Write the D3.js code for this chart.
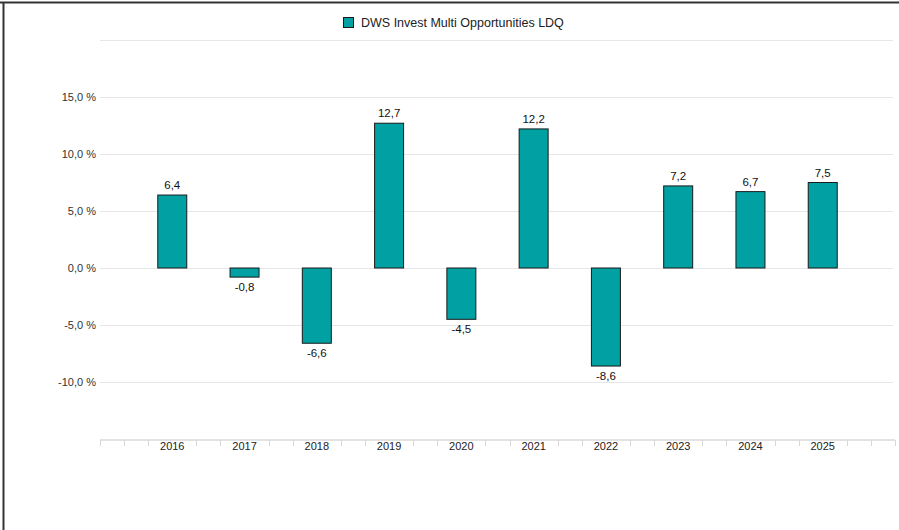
<!DOCTYPE html>
<html>
<head>
<meta charset="utf-8">
<script src="https://cdn.jsdelivr.net/npm/d3@7"></script>
<style>
  body { margin: 0; background: #fff; }
  text { font-family: "Liberation Sans", Arial, sans-serif; }
</style>
</head>
<body>
<div id="chart"></div>
<script>
const years = [2016, 2017, 2018, 2019, 2020, 2021, 2022, 2023, 2024, 2025];
const values = [6.4, -0.8, -6.6, 12.7, -4.5, 12.2, -8.6, 7.2, 6.7, 7.5];
const yTicks = [-10, -5, 0, 5, 10, 15];
const seriesName = 'DWS Invest Multi Opportunities LDQ';

const width = 899, height = 530;
const teal = '#00A0A3';

const locale = d3.formatLocale({ decimal: ',', thousands: '.', grouping: [3], currency: ['', ' €'], minus: '-' });
const fmtAxis = (d) => locale.format('.1f')(d) + ' %';
const fmtVal = locale.format('.1f');

let svg = d3.select('#chart')
            .append('svg')
              .attr('width', width)
              .attr('height', height);

// outer frame (top and left edges visible)
svg.append('line').attr('x1', 0).attr('x2', width).attr('y1', 2.5).attr('y2', 2.5)
  .attr('stroke', '#333').attr('stroke-width', 2);
svg.append('line').attr('x1', 3.5).attr('x2', 3.5).attr('y1', 2).attr('y2', height)
  .attr('stroke', '#333').attr('stroke-width', 2);

let x = d3.scaleLinear()
  .domain([2015, 2026])
  .range([100, 895]);

let y = d3.scaleLinear()
  .domain([-15, 20])
  .range([439, 40]);

// gridlines
svg.append('g')
  .selectAll('line')
  .data([20].concat(yTicks))
  .join('line')
    .attr('x1', 100).attr('x2', 893)
    .attr('y1', (d) => y(d) + 0.5).attr('y2', (d) => y(d) + 0.5)
    .attr('stroke', '#e6e6e6').attr('stroke-width', 1);

// y labels
svg.append('g')
  .selectAll('text')
  .data(yTicks)
  .join('text')
    .attr('x', 96)
    .attr('y', (d) => y(d))
    .attr('dy', '0.35em')
    .attr('text-anchor', 'end')
    .attr('font-size', 11)
    .attr('fill', '#333')
    .text(fmtAxis);

// x axis: minor ticks every third of a year, labels on the years
let minor = d3.range(2015, 2026 + 1e-9, 1 / 3).filter((d) => Math.abs(d - Math.round(d)) > 0.01 || Math.round(d) === 2015 || Math.round(d) === 2026);
let xAxis = svg.append('g')
  .attr('transform', 'translate(0,' + (y(-15) + 1) + ')');
xAxis.append('line')
  .attr('x1', 100).attr('x2', 895)
  .attr('y1', 0).attr('y2', 0)
  .attr('stroke', '#e3e3e3').attr('stroke-width', 2);
xAxis.selectAll('.minor')
  .data(minor)
  .join('line')
    .attr('class', 'minor')
    .attr('x1', (d) => Math.round(x(d)) + 0.5).attr('x2', (d) => Math.round(x(d)) + 0.5)
    .attr('y1', 0).attr('y2', 6)
    .attr('stroke', '#d8d8d8');
xAxis.selectAll('.yl')
  .data(years)
  .join('text')
    .attr('class', 'yl')
    .attr('x', (d) => x(d))
    .attr('y', 10)
    .attr('text-anchor', 'middle')
    .attr('font-size', 11)
    .attr('fill', '#222')
    .text((d) => d);

// bars
let data = years.map((yr, i) => ({ year: yr, value: values[i] }));
svg.append('g')
  .selectAll('rect')
  .data(data)
  .join('rect')
    .attr('x', (d) => x(d.year) - 14.5)
    .attr('width', 29)
    .attr('y', (d) => y(Math.max(0, d.value)))
    .attr('height', (d) => Math.abs(y(d.value) - y(0)))
    .attr('fill', teal)
    .attr('stroke', '#1a1a1a')
    .attr('stroke-width', 1);

// value labels
svg.append('g')
  .selectAll('text')
  .data(data)
  .join('text')
    .attr('x', (d) => x(d.year))
    .attr('y', (d) => d.value >= 0 ? y(d.value) - 6 : y(d.value) + 14)
    .attr('text-anchor', 'middle')
    .attr('font-size', 11.5)
    .attr('fill', '#111')
    .text((d) => fmtVal(d.value));

// legend
let legend = svg.append('g').attr('transform', 'translate(343,17)');
legend.append('rect')
  .attr('x', 0.5).attr('y', 0.5)
  .attr('width', 10).attr('height', 10)
  .attr('fill', teal).attr('stroke', '#1a1a1a');
legend.append('text')
  .attr('x', 18).attr('y', 5.5)
  .attr('dy', '0.35em')
  .attr('font-size', 12.5)
  .attr('fill', '#222')
  .text(seriesName);
</script>
</body>
</html>
